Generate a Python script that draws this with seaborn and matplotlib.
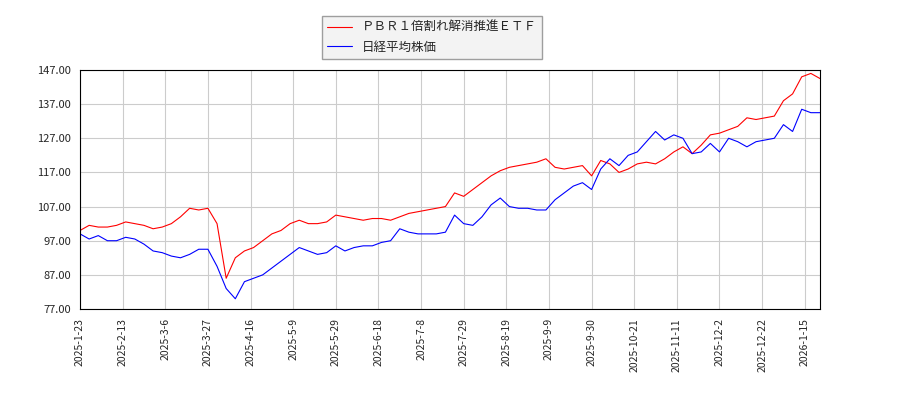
import matplotlib
matplotlib.use("Agg")
import matplotlib.pyplot as plt
import seaborn as sns
import pandas as pd
import numpy as np

sns.set_style("white")
plt.rcParams['font.family'] = ['Noto Sans CJK JP', 'DejaVu Sans']

step = 3
pbr = [100,101.5,101,101,101.5,102.5,102,101.5,100.5,101,102,104,106.5,106,106.5,102,86,92,94,95,97,99,100,102,103,102,102,102.5,104.5,104,103.5,103,103.5,103.5,103,104,105,105.5,106,106.5,107,111,110,112,114,116,117.5,118.5,119,119.5,120,121,118.5,118,118.5,119,116,120.5,119.5,117,118,119.5,120,119.5,121,123,124.5,122.5,125,128,128.5,129.5,130.5,133,132.5,133,133.5,138,140,145,146,144.5]
nikkei = [99,97.5,98.5,97,97,98,97.5,96,94,93.5,92.5,92,93,94.5,94.5,89.5,83,80,85,86,87,89,91,93,95,94,93,93.5,95.5,94,95,95.5,95.5,96.5,97,100.5,99.5,99,99,99,99.5,104.5,102,101.5,104,107.5,109.5,107,106.5,106.5,106,106,109,111,113,114,112,118,121,119,122,123,126,129,126.5,128,127,122.5,123,125.5,123,127,126,124.5,126,126.5,127,131,129,135.5,134.5,134.5]
tick_labels = ["2025-1-23","2025-2-13","2025-3-6","2025-3-27","2025-4-16","2025-5-9","2025-5-29","2025-6-18","2025-7-8","2025-7-29","2025-8-19","2025-9-9","2025-9-30","2025-10-21","2025-11-11","2025-12-2","2025-12-22","2026-1-15"]
label_a = "ＰＢＲ１倍割れ解消推進ＥＴＦ"
label_b = "日経平均株価"

idx = np.arange(len(pbr)) * step
df = pd.DataFrame({"idx": idx, "pbr": pbr, "nikkei": nikkei})

fig = plt.figure(figsize=(9, 4), dpi=100)
ax = fig.add_axes([0.0889, 0.2275, 0.8222, 0.5975])
sns.lineplot(data=df, x="idx", y="pbr", ax=ax, color="red", lw=0.8, label=label_a, legend=False)
sns.lineplot(data=df, x="idx", y="nikkei", ax=ax, color="blue", lw=0.8, label=label_b, legend=False)

ax.set_xlim(0, idx[-1])
ax.set_ylim(77, 147)
ax.set_yticks(np.arange(77, 148, 10))
ax.set_yticklabels([f"{v:.2f}" for v in np.arange(77, 148, 10)], fontsize=8)
ax.set_xticks(np.arange(len(tick_labels)) * 14)
ax.set_xticklabels(tick_labels, rotation=90, fontsize=7.5)
ax.grid(True, color="#cccccc", lw=0.8)
ax.set_xlabel("")
ax.set_ylabel("")
for s in ax.spines.values():
    s.set_color("black")
    s.set_linewidth(0.8)
ax.tick_params(length=3, color="black")

h, l = ax.get_legend_handles_labels()
fig.legend(h, l, loc="upper center", bbox_to_anchor=(0.48, 0.975), fontsize=9,
           frameon=True, fancybox=False, edgecolor="#888888", facecolor="#f0f0f0")
fig.savefig("out.png", dpi=100)
